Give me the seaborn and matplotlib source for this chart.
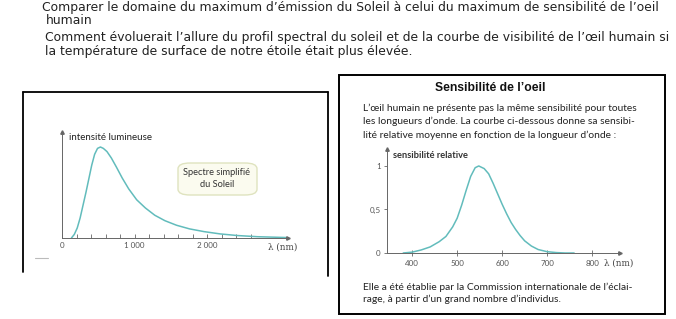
import numpy as np
import pandas as pd
import seaborn as sns
import matplotlib
matplotlib.use("Agg")
import matplotlib.pyplot as plt
from matplotlib.patches import FancyBboxPatch, Rectangle
from matplotlib.lines import Line2D

# ---------------- data ----------------
sun_nm = [130, 170, 210, 250, 290, 330, 370, 410, 450, 490, 530, 570, 620, 680, 750, 830, 920,
          1030, 1150, 1280, 1420, 1580, 1760, 1960, 2180, 2420, 2700, 3100]
sun_int = [0, 0.04, 0.11, 0.22, 0.36, 0.50, 0.65, 0.80, 0.92, 0.985, 1.0, 0.985, 0.95, 0.88, 0.78, 0.66, 0.54,
           0.42, 0.33, 0.25, 0.19, 0.14, 0.10, 0.07, 0.045, 0.027, 0.014, 0.005]
sun_ticks = [0, 200, 400, 600, 800, 1000, 1200, 1400, 1600, 1800, 2000, 2200, 2400, 2600]
sun_ticklabels = ["0", "", "", "", "", "1 000", "", "", "", "", "2 000", "", "", ""]

eye_nm = [380, 400, 420, 440, 460, 475, 490, 500, 510, 520, 530, 540, 548, 560, 570, 580, 590, 600,
          610, 620, 630, 640, 650, 665, 680, 700, 720, 740, 760]
eye_sens = [0, 0.01, 0.035, 0.07, 0.13, 0.19, 0.30, 0.40, 0.55, 0.72, 0.88, 0.98, 1.0, 0.97, 0.91, 0.80, 0.68, 0.56,
            0.45, 0.35, 0.27, 0.20, 0.14, 0.08, 0.04, 0.015, 0.005, 0.0, 0.0]
eye_xticks = [400, 500, 600, 700, 800]
eye_yticks = [0, 0.5, 1]
eye_yticklabels = ["0", "0,5", "1"]

W, H = 676, 319
def fx(x): return x / W
def fy(y): return 1 - y / H

sns.set_style("white")
plt.rcParams['font.family'] = ['DejaVu Sans']

fig = plt.figure(figsize=(W / 100, H / 100), dpi=100)
fig.patch.set_facecolor("white")

# ---------------- header text ----------------
tc = "#222222"
fs_top = 8.95
fig.text(fx(42), fy(8), "Comparer le domaine du maximum d\u2019\u00e9mission du Soleil \u00e0 celui du maximum de sensibilit\u00e9 de l\u2019oeil",
         fontsize=fs_top, color=tc, va="center", ha="left")
fig.text(fx(46), fy(20), "humain", fontsize=fs_top, color=tc, va="center", ha="left")
fig.text(fx(45), fy(37), "Comment \u00e9voluerait l\u2019allure du profil spectral du soleil et de la courbe de visibilit\u00e9 de l\u2019\u0153il humain si",
         fontsize=fs_top, color=tc, va="center", ha="left")
fig.text(fx(45), fy(51), "la temp\u00e9rature de surface de notre \u00e9toile \u00e9tait plus \u00e9lev\u00e9e.",
         fontsize=fs_top, color=tc, va="center", ha="left")

# ---------------- panel frames ----------------
lc = "black"
fig.add_artist(Line2D([fx(23), fx(23)], [fy(92), fy(272)], color=lc, lw=1.3))
fig.add_artist(Line2D([fx(23), fx(328)], [fy(92), fy(92)], color=lc, lw=1.3))
fig.add_artist(Line2D([fx(328), fx(328)], [fy(92), fy(276)], color=lc, lw=1.3))
fig.add_artist(Rectangle((fx(339), fy(314)), fx(665) - fx(339), fy(75) - fy(314),
                         fill=False, edgecolor=lc, lw=1.4, transform=fig.transFigure))
fig.add_artist(Line2D([fx(35), fx(48)], [fy(258), fy(258)], color="#bbbbbb", lw=0.8))

curve_col = "#62bcbc"
ax_col = "#666666"
tick_font = dict(family=["Lato", "DejaVu Sans"], size=5.8)

def style_axes(ax):
    for s in ["top", "right"]:
        ax.spines[s].set_visible(False)
    for s in ["left", "bottom"]:
        ax.spines[s].set_color(ax_col)
        ax.spines[s].set_linewidth(0.7)
    ax.set_facecolor("none")
    ax.plot(1, 0, marker=">", ms=2.5, color=ax_col, transform=ax.transAxes, clip_on=False)
    ax.plot(0, 1, marker="^", ms=2.5, color=ax_col, transform=ax.transAxes, clip_on=False)
    ax.set_xlabel("")
    ax.set_ylabel("")

# ---------------- left chart: solar spectrum ----------------
ax1 = fig.add_axes([fx(62), fy(238), fx(288) - fx(62), fy(132) - fy(238)])
df1 = pd.DataFrame({"nm": sun_nm, "I": sun_int})
sns.lineplot(data=df1, x="nm", y="I", ax=ax1, color=curve_col, lw=1.1)
ax1.set_xlim(0, 3117)
ax1.set_ylim(0, 1.165)
style_axes(ax1)
ax1.set_xticks(sun_ticks)
ax1.set_xticklabels(sun_ticklabels, color="#555555", **tick_font)
ax1.set_yticks([])
ax1.tick_params(axis="x", direction="in", length=3, width=0.6, color=ax_col, pad=3, bottom=True)
fig.text(fx(69), fy(138), "intensit\u00e9 lumineuse", fontsize=7.0, color="#222222",
         family=["Lato", "DejaVu Sans"], va="center", ha="left")
fig.text(fx(268), fy(247), "\u03bb (nm)", fontsize=6.3, color="#444444",
         family=["DejaVu Serif"], va="center", ha="left")
box = FancyBboxPatch((fx(178), fy(195)), fx(257) - fx(178), fy(163) - fy(195),
                     boxstyle="round,pad=0,rounding_size=0.018", transform=fig.transFigure,
                     facecolor="#fbfbef", edgecolor="#dfe3bf", lw=1.0)
fig.add_artist(box)
fig.text(fx(217), fy(172.5), "Spectre simplifi\u00e9", fontsize=6.7, color="#333333",
         family=["Lato", "DejaVu Sans"], va="center", ha="center")
fig.text(fx(217), fy(184.5), "du Soleil", fontsize=6.7, color="#333333",
         family=["Lato", "DejaVu Sans"], va="center", ha="center")

# ---------------- right panel text ----------------
fig.text(fx(490), fy(88), "Sensibilit\u00e9 de l\u2019oeil", fontsize=8.7, fontweight="bold",
         color="#111111", family=["Liberation Sans", "DejaVu Sans"], va="center", ha="center")
pfont = dict(fontsize=7.4, color="#222222", family=["Lato", "DejaVu Sans"], va="center", ha="left")
fig.text(fx(363), fy(108), "L\u2019\u0153il humain ne pr\u00e9sente pas la m\u00eame sensibilit\u00e9 pour toutes", **pfont)
fig.text(fx(363), fy(121.5), "les longueurs d\u2019onde. La courbe ci-dessous donne sa sensibi-", **pfont)
fig.text(fx(363), fy(135), "lit\u00e9 relative moyenne en fonction de la longueur d\u2019onde :", **pfont)
fig.text(fx(363), fy(287), "Elle a \u00e9t\u00e9 \u00e9tablie par la Commission internationale de l\u2019\u00e9clai-", **pfont)
fig.text(fx(363), fy(299), "rage, \u00e0 partir d\u2019un grand nombre d\u2019individus.", **pfont)

# ---------------- right chart: eye sensitivity ----------------
ax2 = fig.add_axes([fx(387), fy(253), fx(620) - fx(387), fy(149) - fy(253)])
df2 = pd.DataFrame({"nm": eye_nm, "S": eye_sens})
sns.lineplot(data=df2, x="nm", y="S", ax=ax2, color=curve_col, lw=1.1)
ax2.set_xlim(344, 862)
ax2.set_ylim(0, 1.195)
style_axes(ax2)
ax2.set_xticks(eye_xticks)
ax2.set_xticklabels([str(v) for v in eye_xticks], color="#555555", **tick_font)
ax2.set_yticks(eye_yticks)
ax2.set_yticklabels(eye_yticklabels, color="#555555", **tick_font)
ax2.tick_params(axis="x", direction="inout", length=4, width=0.6, color=ax_col, pad=3, bottom=True)
ax2.tick_params(axis="y", direction="out", length=2.5, width=0.6, color=ax_col, pad=2, left=True)
fig.text(fx(393), fy(155), "sensibilit\u00e9 relative", fontsize=6.7, fontweight="bold", color="#333333",
         family=["Lato", "DejaVu Sans"], va="center", ha="left")
fig.text(fx(604), fy(263), "\u03bb (nm)", fontsize=6.3, color="#444444",
         family=["DejaVu Serif"], va="center", ha="left")

fig.savefig("out.png", dpi=100, facecolor="white")
